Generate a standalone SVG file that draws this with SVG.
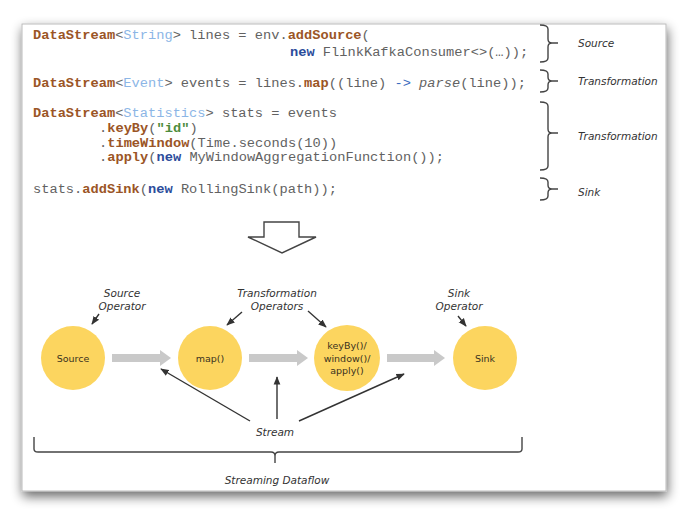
<svg xmlns="http://www.w3.org/2000/svg" width="688" height="516" viewBox="0 0 688 516">
<defs>
<filter id="sh" x="-10%" y="-10%" width="120%" height="125%">
<feGaussianBlur in="SourceAlpha" stdDeviation="6"/>
<feOffset dx="1" dy="5" result="b"/>
<feComponentTransfer><feFuncA type="linear" slope="0.6"/></feComponentTransfer>
<feMerge><feMergeNode/><feMergeNode in="SourceGraphic"/></feMerge>
</filter>
<marker id="ah" viewBox="0 0 10 10" refX="9" refY="5" markerWidth="6" markerHeight="6" orient="auto">
<path d="M0,1 L10,5 L0,9 Z" fill="#333"/>
</marker>
</defs>
<style>
.code{font-family:"Liberation Mono","Courier New",monospace;font-size:13.7px;fill:#626262}
.k{fill:#9b5526;font-weight:bold}
.t{fill:#8cb6e6}
.n{fill:#2b4c9b;font-weight:bold}
.s{fill:#4d8c3c;font-weight:bold}
.lab{font-family:"DejaVu Sans","Open Sans",sans-serif;font-style:italic;font-size:10.5px;fill:#333}
.node{fill:#fcd55f}
.nt{font-family:"DejaVu Sans","Open Sans",sans-serif;font-size:9.5px;fill:#3a3220;text-anchor:middle}
.br{fill:none;stroke:#444;stroke-width:1.4}
.ga{fill:#c9c9c9}
.ln{stroke:#333;stroke-width:1.4;fill:none;marker-end:url(#ah)}
</style>
<rect x="0" y="0" width="688" height="516" fill="#fff"/>
<rect x="22" y="24" width="644" height="467" fill="#fff" stroke="#bbb" stroke-width="1" filter="url(#sh)"/>
<g id="code">
<text class="code" x="33" y="39"><tspan class="k">DataStream</tspan>&lt;<tspan class="t">String</tspan>&gt; lines = env.<tspan class="k">addSource</tspan>(</text>
<text class="code" x="290" y="56"><tspan class="n">new</tspan> FlinkKafkaConsumer&lt;&gt;(…));</text>
<text class="code" x="33" y="87"><tspan class="k">DataStream</tspan>&lt;<tspan class="t">Event</tspan>&gt; events = lines.<tspan class="k">map</tspan>((line) <tspan style="fill:#3b6cc0">-&gt;</tspan> <tspan font-style="italic">parse</tspan>(line));</text>
<text class="code" x="33" y="117"><tspan class="k">DataStream</tspan>&lt;<tspan class="t">Statistics</tspan>&gt; stats = events</text>
<text class="code" x="99" y="132">.<tspan class="k">keyBy</tspan>(<tspan class="s">"id"</tspan>)</text>
<text class="code" x="99" y="146.5">.<tspan class="k">timeWindow</tspan>(Time.seconds(10))</text>
<text class="code" x="99" y="161">.<tspan class="k">apply</tspan>(<tspan class="n">new</tspan> MyWindowAggregationFunction());</text>
<text class="code" x="33" y="193">stats.<tspan class="k">addSink</tspan>(<tspan class="n">new</tspan> RollingSink(path));</text>
</g>
<g id="braces">
<path class="br" d="M540,25 Q548,25 548,29 L548,39 Q548,43 552,43 L558,43 M552,43 Q548,43 548,47 L548,58 Q548,62 540,62"/>
<path class="br" d="M540,70 Q548,70 548,74 L548,77 Q548,81 552,81 L558,81 M552,81 Q548,81 548,85 L548,88 Q548,92 540,92"/>
<path class="br" d="M540,102 Q548,102 548,106 L548,129 Q548,133 552,133 L558,133 M552,133 Q548,133 548,137 L548,166 Q548,170 540,170"/>
<path class="br" d="M540,178 Q548,178 548,182 L548,185 Q548,189 552,189 L558,189 M552,189 Q548,189 548,193 L548,196 Q548,200 540,200"/>
<text class="lab" x="578" y="47">Source</text>
<text class="lab" x="578" y="85">Transformation</text>
<text class="lab" x="578" y="140">Transformation</text>
<text class="lab" x="578" y="196">Sink</text>
</g>
<g id="bigarrow">
<path d="M264,222 L299,222 L299,237 L316,237 L282,253 L248,237 L264,237 Z" fill="#fff" stroke="#444" stroke-width="1.4" stroke-linejoin="miter"/>
</g>
<g id="connectors">
<path class="ga" d="M112,354 L160,354 L160,350 L171,358 L160,366 L160,362 L112,362 Z"/>
<path class="ga" d="M249,354 L297,354 L297,350 L308,358 L297,366 L297,362 L249,362 Z"/>
<path class="ga" d="M387,354 L434,354 L434,350 L445,358 L434,366 L434,362 L387,362 Z"/>
<line class="ln" x1="99" y1="314" x2="92" y2="324"/>
<line class="ln" x1="242" y1="312" x2="227" y2="325"/>
<line class="ln" x1="308" y1="311" x2="326" y2="327"/>
<line class="ln" x1="458" y1="316" x2="466" y2="326"/>
<line class="ln" x1="250" y1="421" x2="161" y2="369"/>
<line class="ln" x1="277" y1="419" x2="277" y2="377"/>
<line class="ln" x1="299" y1="421" x2="404" y2="374"/>
</g>
<g id="n-source"><circle class="node" cx="73" cy="358" r="32"/><text class="nt" x="73" y="361.5">Source</text></g>
<g id="n-map"><circle class="node" cx="210" cy="358" r="32"/><text class="nt" x="210" y="361.5">map()</text></g>
<g id="n-keyby"><circle class="node" cx="347" cy="358" r="33"/><text class="nt" x="347" y="349">keyBy()/</text><text class="nt" x="347" y="361.5">window()/</text><text class="nt" x="347" y="374">apply()</text></g>
<g id="n-sink"><circle class="node" cx="485" cy="358" r="32"/><text class="nt" x="485" y="361.5">Sink</text></g>
<g id="labels">
<text class="lab" x="122" y="297" text-anchor="middle">Source</text>
<text class="lab" x="122" y="310" text-anchor="middle">Operator</text>
<text class="lab" x="277" y="297" text-anchor="middle">Transformation</text>
<text class="lab" x="277" y="310" text-anchor="middle">Operators</text>
<text class="lab" x="459" y="297" text-anchor="middle">Sink</text>
<text class="lab" x="459" y="310" text-anchor="middle">Operator</text>
<text class="lab" x="275" y="436" text-anchor="middle">Stream</text>
<text class="lab" x="277" y="484" text-anchor="middle">Streaming Dataflow</text>
</g>
<g id="bottombrace">
<path class="br" d="M34,437 L34,449 Q34,452 38,452 L271,452 Q275,452 275,456 L275,463 M275,456 Q275,452 279,452 L518,452 Q522,452 522,449 L522,437"/>
</g>
</svg>
